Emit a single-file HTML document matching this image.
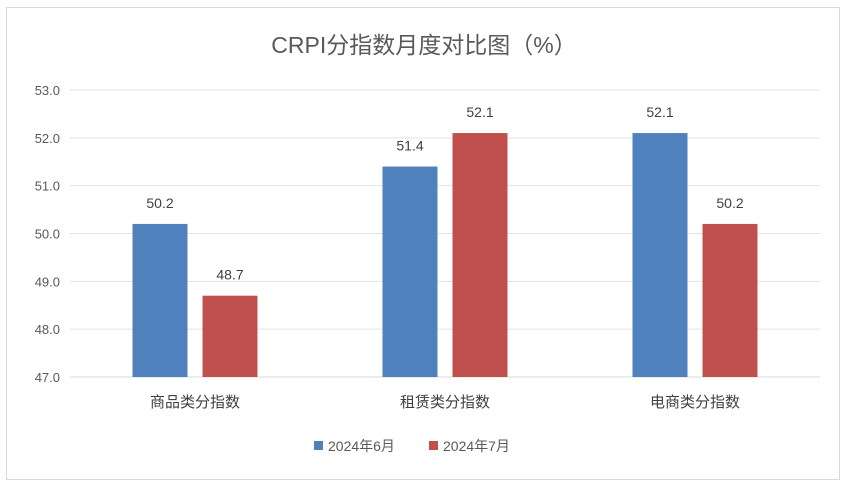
<!DOCTYPE html>
<html><head><meta charset="utf-8"><style>
body{margin:0;background:#fff;}
svg{display:block;font-family:"Liberation Sans","Noto Sans CJK SC",sans-serif;}
</style></head><body>
<svg id="chart" width="849" height="492">
<rect x="6.5" y="7.5" width="833" height="472" fill="#fff" stroke="#d9d9d9"/>
<text x="424" y="53" text-anchor="middle" font-size="23" fill="#595959">CRPI分指数月度对比图（%）</text>
<g id="grid"></g><g id="bars"></g><g id="labels"></g>
<g>
<rect x="314" y="441" width="9" height="9" fill="#4f81bd"/>
<text x="328" y="451" font-size="14" fill="#595959">2024年6月</text>
<rect x="429" y="441" width="9" height="9" fill="#c0504d"/>
<text x="443" y="451" font-size="14" fill="#595959">2024年7月</text>
</g>
</svg>
<script>
const categories=["商品类分指数","租赁类分指数","电商类分指数"];
const june=[50.2,51.4,52.1];
const july=[48.7,52.1,50.2];
const ticks=[47,48,49,50,51,52,53];
const svg=document.getElementById('chart'),NS='http://www.w3.org/2000/svg';
const x0=70,x1=820,yMin=47,yMax=53,yTop=90,yBot=377;
const y=v=>yBot-(v-yMin)/(yMax-yMin)*(yBot-yTop);
const band=(x1-x0)/categories.length;
function mk(t,a,p){const e=document.createElementNS(NS,t);for(const k in a)e.setAttribute(k,a[k]);document.getElementById(p).appendChild(e);return e;}
ticks.forEach(t=>{
const l=mk('line',{x1:x0,x2:x1,y1:y(t),y2:y(t),stroke:t===47?'#d9d9d9':'#e3e3e3','stroke-width':1},'grid');


const tx=mk('text',{x:x0-10,y:y(t)+5,'text-anchor':'end','font-size':13,fill:'#595959'},'grid');
tx.textContent=t.toFixed(1);


});
categories.forEach((c,i)=>{
const cx=x0+band*(i+0.5);
[[june,'#4f81bd',-62.5,'june'],[july,'#c0504d',7.5,'july']].forEach(([arr,col,off,nm])=>{
const v=arr[i];
const r=mk('rect',{x:cx+off,y:y(v),width:55,height:yBot-y(v),fill:col},'bars');


const t=mk('text',{x:cx+off+27.5,y:y(v)-16,'text-anchor':'middle','font-size':14,fill:'#404040'},'labels');
t.textContent=v.toFixed(1);


});
const ct=mk('text',{x:cx,y:yBot+30,'text-anchor':'middle','font-size':15,fill:'#404040'},'labels');
ct.textContent=c;


});
</script>
</body></html>
